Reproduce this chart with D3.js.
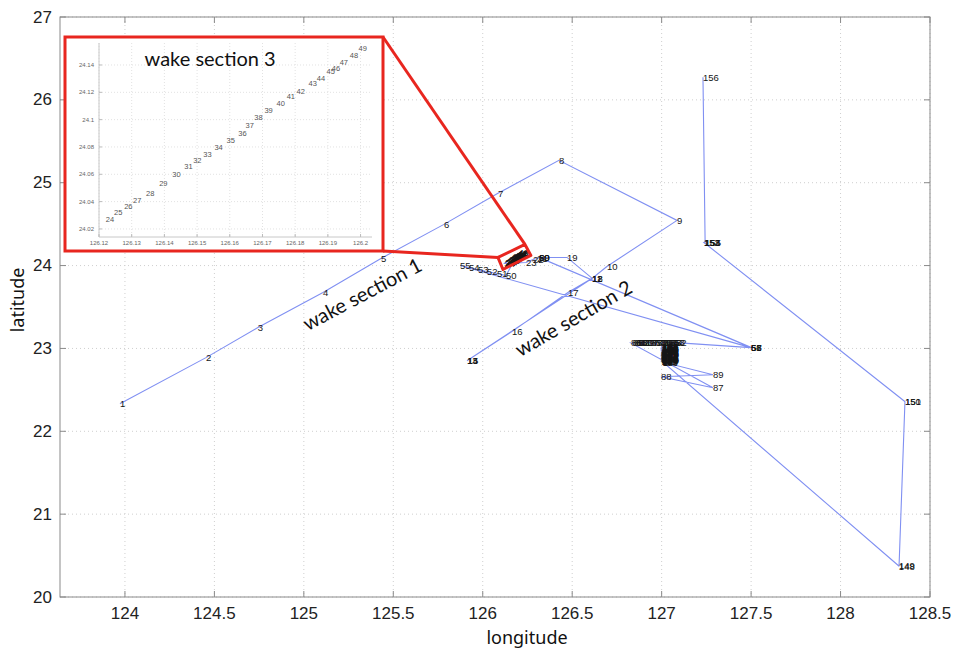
<!DOCTYPE html>
<html>
<head>
<meta charset="utf-8">
<script src="https://cdn.jsdelivr.net/npm/d3@7"></script>
<style>
body { margin: 0; background: #fff; }
svg { display: block; }
</style>
</head>
<body>
<svg id="chart"></svg>
<script>
// ship track, station numbers 1..156 (longitude / latitude)
var lon = [
  123.972, 124.453, 124.743, 125.107, 125.431, 125.783, 126.085, 126.426, 127.086, 126.694,
  126.611, 126.610, 125.912, 125.914, 125.916, 126.163, 126.476, 126.612, 126.471, 126.314,
  126.303, 126.281, 126.242,
  126.1221, 126.1246, 126.1277, 126.1304, 126.1344, 126.1384, 126.1424, 126.1461, 126.1488, 126.1519,
  126.1553, 126.1590, 126.1626, 126.1648, 126.1675, 126.1706, 126.1743, 126.1774, 126.1804, 126.1841,
  126.1866, 126.1896, 126.1912, 126.1936, 126.1967, 126.1994,
  126.130, 126.079, 126.023, 125.973, 125.923, 125.873,
  127.499, 127.500, 127.501, 126.316, 126.314, 127.498,
  127.080, 127.070, 127.059, 127.049, 127.038, 127.028, 127.017, 127.007, 126.996, 126.986,
  126.975, 126.965, 126.954, 126.944, 126.933, 126.923, 126.912, 126.902, 126.891, 126.881,
  126.870, 126.860, 126.849, 126.839, 126.828,
  127.287, 126.996, 127.287,
  126.998, 126.999, 126.997, 126.998, 127.000, 126.998, 126.997, 126.999, 126.998, 127.000,
  126.998, 126.997, 126.999, 126.998, 127.000,
  127.005, 127.006, 127.004, 127.005, 127.006, 127.005, 127.004, 127.006, 127.005, 127.006,
  127.005, 127.004, 127.006, 127.005,
  127.002, 127.003, 127.001, 127.002, 127.003, 127.002, 127.001, 127.003, 127.002, 127.003,
  127.002, 127.001, 127.003, 127.002,
  127.007, 127.008, 127.006, 127.007, 127.008, 127.007, 127.006, 127.008, 127.007, 127.008,
  127.007, 127.006, 127.008, 127.007, 127.008,
  128.326, 128.327, 128.360, 128.361, 127.236, 127.238, 127.240, 127.243, 127.231
];
var lat = [
  22.333, 22.889, 23.252, 23.675, 24.086, 24.497, 24.872, 25.271, 24.545, 23.989,
  23.845, 23.844, 22.852, 22.854, 22.856, 23.203, 23.675, 23.846, 24.098, 24.098,
  24.086, 24.074, 24.037,
  24.0266, 24.0317, 24.0361, 24.0405, 24.0463, 24.0529, 24.0595, 24.0654, 24.0698, 24.0742,
  24.0793, 24.0844, 24.0896, 24.0954, 24.1013, 24.1064, 24.1115, 24.1167, 24.1203, 24.1262,
  24.1298, 24.1350, 24.1372, 24.1416, 24.1467, 24.1518,
  23.880, 23.904, 23.929, 23.953, 23.977, 24.001,
  23.010, 23.009, 23.011, 24.097, 24.099, 23.010,
  23.070, 23.068, 23.071, 23.069, 23.066, 23.070, 23.072, 23.068, 23.067, 23.070,
  23.069, 23.071, 23.068, 23.066, 23.070, 23.069, 23.072, 23.067, 23.069, 23.070,
  23.068, 23.066, 23.071, 23.069, 23.067,
  22.526, 22.659, 22.683,
  22.840, 22.853, 22.866, 22.879, 22.892, 22.905, 22.918, 22.931, 22.944, 22.957,
  22.970, 22.983, 22.996, 23.009, 23.020,
  23.015, 23.001, 22.987, 22.973, 22.959, 22.945, 22.931, 22.917, 22.903, 22.889,
  22.875, 22.861, 22.847, 22.836,
  22.842, 22.856, 22.870, 22.884, 22.898, 22.912, 22.926, 22.940, 22.954, 22.968,
  22.982, 22.996, 23.010, 23.021,
  23.018, 23.005, 22.992, 22.979, 22.966, 22.953, 22.940, 22.927, 22.914, 22.901,
  22.888, 22.875, 22.862, 22.849, 22.834,
  20.374, 20.375, 22.357, 22.356, 24.279, 24.280, 24.279, 24.280, 26.274
];
var xTicks = [124, 124.5, 125, 125.5, 126, 126.5, 127, 127.5, 128, 128.5];
var xTickLabels = ["124", "124.5", "125", "125.5", "126", "126.5", "127", "127.5", "128", "128.5"];
var yTicks = [20, 21, 22, 23, 24, 25, 26, 27];
var yTickLabels = ["20", "21", "22", "23", "24", "25", "26", "27"];

// zoomed panel for wake section 3 (stations 24..49)
var insetFirst = 24, insetLast = 49;
var insetXTicks = [126.12, 126.13, 126.14, 126.15, 126.16, 126.17, 126.18, 126.19, 126.2];
var insetXTickLabels = ["126.12", "126.13", "126.14", "126.15", "126.16", "126.17", "126.18", "126.19", "126.2"];
var insetYTicks = [24.02, 24.04, 24.06, 24.08, 24.1, 24.12, 24.14];
var insetYTickLabels = ["24.02", "24.04", "24.06", "24.08", "24.1", "24.12", "24.14"];
// red box around section 3 on the main map (lon, lat corners)
var boxLon = [126.085, 126.236, 126.269, 126.113];
var boxLat = [24.098, 24.255, 24.122, 23.953];
// section captions
var captionText = ["wake section 1", "wake section 2"];
var captionLon = [125.325, 126.504];
var captionLat = [23.663, 23.372];
var captionAngle = [-28, -30];

var W = 953, H = 648;
var plot = {left: 60, right: 930, top: 17, bottom: 597};
var inset = {left: 65, right: 383, top: 37, bottom: 251};

var svg = d3.select("#chart").attr("width", W).attr("height", H);

var x = d3.scaleLinear().domain([123.637, 128.5]).range([plot.left, plot.right]);
var y = d3.scaleLinear().domain([20, 27]).range([plot.bottom, plot.top]);

var pts = lon.map(function(d, i) { return {id: i + 1, lon: d, lat: lat[i]}; });

// grid
var grid = svg.append("g");
grid.selectAll(".gx").data(xTicks).enter().append("line")
  .attr("x1", function(d) { return x(d); }).attr("x2", function(d) { return x(d); })
  .attr("y1", plot.top).attr("y2", plot.bottom)
  .attr("stroke", "#cfcfcf").attr("stroke-width", 1).attr("stroke-dasharray", "1,3");
grid.selectAll(".gy").data(yTicks).enter().append("line")
  .attr("y1", function(d) { return y(d); }).attr("y2", function(d) { return y(d); })
  .attr("x1", plot.left).attr("x2", plot.right)
  .attr("stroke", "#cfcfcf").attr("stroke-width", 1).attr("stroke-dasharray", "1,3");

// track
var line = d3.line().x(function(d) { return x(d.lon); }).y(function(d) { return y(d.lat); });
svg.append("path").datum(pts).attr("d", line)
  .attr("fill", "none").attr("stroke", "#8090f2").attr("stroke-width", 1.1);

// station numbers
svg.append("g").selectAll("text").data(pts).enter().append("text")
  .attr("x", function(d) { return x(d.lon); })
  .attr("y", function(d) { return y(d.lat); })
  .attr("dominant-baseline", "central")
  .attr("font-family", "Liberation Sans, Arial, sans-serif")
  .attr("font-size", 9.5)
  .attr("fill", "#151515")
  .text(function(d) { return d.id; });

// frame + ticks
svg.append("rect").attr("x", plot.left).attr("y", plot.top)
  .attr("width", plot.right - plot.left).attr("height", plot.bottom - plot.top)
  .attr("fill", "none").attr("stroke", "#8a8a8a").attr("stroke-width", 1);

var ax = svg.append("g");
xTicks.forEach(function(t, i) {
  ax.append("line").attr("x1", x(t)).attr("x2", x(t)).attr("y1", plot.bottom).attr("y2", plot.bottom - 6)
    .attr("stroke", "#8a8a8a");
  ax.append("line").attr("x1", x(t)).attr("x2", x(t)).attr("y1", plot.top).attr("y2", plot.top + 6)
    .attr("stroke", "#8a8a8a");
  ax.append("text").attr("x", x(t)).attr("y", plot.bottom + 22)
    .attr("text-anchor", "middle").attr("font-family", "Liberation Sans, Arial, sans-serif")
    .attr("font-size", 17).attr("fill", "#222").text(xTickLabels[i]);
});
yTicks.forEach(function(t, i) {
  ax.append("line").attr("y1", y(t)).attr("y2", y(t)).attr("x1", plot.left).attr("x2", plot.left + 6)
    .attr("stroke", "#8a8a8a");
  ax.append("line").attr("y1", y(t)).attr("y2", y(t)).attr("x1", plot.right).attr("x2", plot.right - 6)
    .attr("stroke", "#8a8a8a");
  ax.append("text").attr("x", plot.left - 8).attr("y", y(t))
    .attr("text-anchor", "end").attr("dominant-baseline", "central")
    .attr("font-family", "Liberation Sans, Arial, sans-serif")
    .attr("font-size", 17).attr("fill", "#222").text(yTickLabels[i]);
});

svg.append("text").attr("x", (plot.left + plot.right) / 2 + 32).attr("y", 644)
  .attr("text-anchor", "middle").attr("font-family", "Noto Sans, sans-serif")
  .attr("font-size", 18).attr("fill", "#111").text("longitude");
svg.append("text").attr("transform", "translate(24," + ((plot.top + plot.bottom) / 2 - 7) + ") rotate(-90)")
  .attr("text-anchor", "middle").attr("font-family", "Noto Sans, sans-serif")
  .attr("font-size", 18).attr("fill", "#111").text("latitude");

// captions
captionText.forEach(function(t, i) {
  svg.append("text")
    .attr("transform", "translate(" + x(captionLon[i]) + "," + y(captionLat[i]) + ") rotate(" + captionAngle[i] + ")")
    .attr("text-anchor", "middle").attr("dominant-baseline", "central")
    .attr("font-family", "Lato, sans-serif").attr("font-size", 20).attr("fill", "#111")
    .text(t);
});

// red box on the map
var box = boxLon.map(function(d, i) { return [x(d), y(boxLat[i])]; });
svg.append("polygon").attr("points", box.map(function(p) { return p.join(","); }).join(" "))
  .attr("fill", "none").attr("stroke", "#e8261f").attr("stroke-width", 3).attr("stroke-linejoin", "round");
svg.append("line").attr("x1", inset.right).attr("y1", inset.bottom).attr("x2", box[0][0]).attr("y2", box[0][1])
  .attr("stroke", "#e8261f").attr("stroke-width", 3);
svg.append("line").attr("x1", inset.right).attr("y1", inset.top).attr("x2", box[1][0]).attr("y2", box[1][1])
  .attr("stroke", "#e8261f").attr("stroke-width", 3);

// inset
var ig = svg.append("g");
ig.append("rect").attr("x", inset.left).attr("y", inset.top)
  .attr("width", inset.right - inset.left).attr("height", inset.bottom - inset.top)
  .attr("fill", "#fff");

var ix = d3.scaleLinear().domain([126.12, 126.2035]).range([99, 372]);
var iy = d3.scaleLinear().domain([24.0141, 24.1561]).range([237, 43]);

ig.selectAll(".igx").data(insetXTicks).enter().append("line")
  .attr("x1", function(d) { return ix(d); }).attr("x2", function(d) { return ix(d); })
  .attr("y1", iy.range()[1]).attr("y2", iy.range()[0])
  .attr("stroke", "#e2e2e2").attr("stroke-dasharray", "1,2");
ig.selectAll(".igy").data(insetYTicks).enter().append("line")
  .attr("y1", function(d) { return iy(d); }).attr("y2", function(d) { return iy(d); })
  .attr("x1", ix.range()[0]).attr("x2", ix.range()[1])
  .attr("stroke", "#e2e2e2").attr("stroke-dasharray", "1,2");
ig.append("line").attr("x1", ix.range()[0]).attr("x2", ix.range()[0])
  .attr("y1", iy.range()[1]).attr("y2", iy.range()[0]).attr("stroke", "#c8c8c8");
ig.append("line").attr("x1", ix.range()[0]).attr("x2", ix.range()[1])
  .attr("y1", iy.range()[0]).attr("y2", iy.range()[0]).attr("stroke", "#c8c8c8");

insetXTicks.forEach(function(t, i) {
  ig.append("line").attr("x1", ix(t)).attr("x2", ix(t)).attr("y1", 237).attr("y2", 234).attr("stroke", "#bbb");
  ig.append("text").attr("x", ix(t)).attr("y", 245).attr("text-anchor", "middle")
    .attr("font-family", "Liberation Sans, Arial, sans-serif").attr("font-size", 6).attr("fill", "#666")
    .text(insetXTickLabels[i]);
});
insetYTicks.forEach(function(t, i) {
  ig.append("line").attr("x1", 99).attr("x2", 102).attr("y1", iy(t)).attr("y2", iy(t)).attr("stroke", "#bbb");
  ig.append("text").attr("x", 94).attr("y", iy(t)).attr("text-anchor", "end").attr("dominant-baseline", "central")
    .attr("font-family", "Liberation Sans, Arial, sans-serif").attr("font-size", 6).attr("fill", "#666")
    .text(insetYTickLabels[i]);
});

ig.selectAll(".ipt").data(pts.slice(insetFirst - 1, insetLast)).enter().append("text")
  .attr("x", function(d) { return ix(d.lon); })
  .attr("y", function(d) { return iy(d.lat); })
  .attr("dominant-baseline", "central")
  .attr("font-family", "Liberation Sans, Arial, sans-serif")
  .attr("font-size", 7.5).attr("fill", "#555")
  .text(function(d) { return d.id; });

ig.append("text").attr("x", ix(126.154)).attr("y", iy(24.145))
  .attr("text-anchor", "middle").attr("dominant-baseline", "central")
  .attr("font-family", "Lato, sans-serif").attr("font-size", 20).attr("fill", "#111")
  .text("wake section 3");

ig.append("rect").attr("x", inset.left).attr("y", inset.top)
  .attr("width", inset.right - inset.left).attr("height", inset.bottom - inset.top)
  .attr("fill", "none").attr("stroke", "#e8261f").attr("stroke-width", 3);
</script>
</body>
</html>
